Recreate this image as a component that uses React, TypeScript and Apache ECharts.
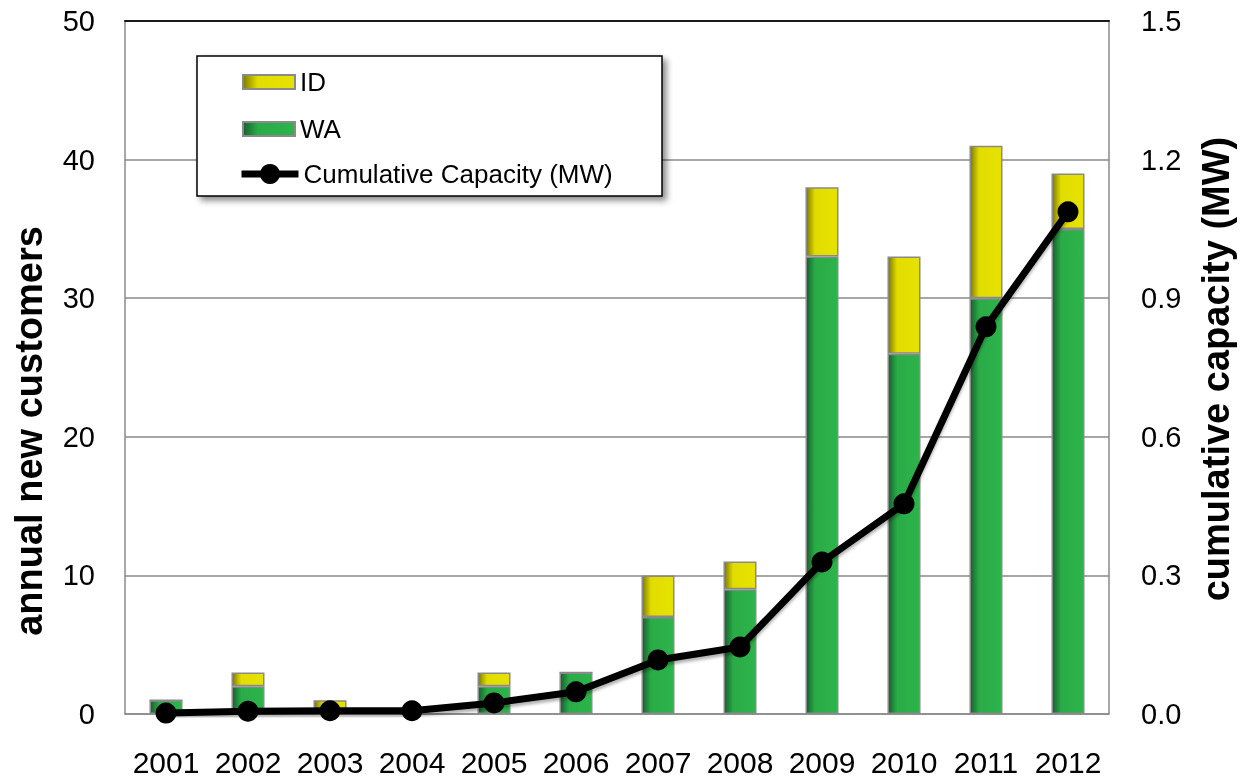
import React, { useEffect, useRef } from "react";
import * as echarts from "echarts";

const years = ["2001", "2002", "2003", "2004", "2005", "2006", "2007", "2008", "2009", "2010", "2011", "2012"];
const waCustomers = [1, 2, 0, 0, 2, 3, 7, 9, 33, 26, 30, 35];
const idCustomers = [0, 1, 1, 0, 1, 0, 3, 2, 5, 7, 11, 4];
const cumulativeMW = [0.002, 0.006, 0.007, 0.007, 0.024, 0.048, 0.117, 0.145, 0.329, 0.455, 0.838, 1.087];
const leftTicks = { min: 0, max: 50, interval: 10 };
const rightTicks = { min: 0, max: 1.5, interval: 0.3 };

const FONT = '"Liberation Sans", Arial, sans-serif';

export default function App() {
  const ref = useRef<HTMLDivElement>(null);
  useEffect(() => {
    document.body.style.margin = "0";
    const chart = echarts.init(ref.current!, null, { renderer: "svg" });
    const green = new echarts.graphic.LinearGradient(0, 0, 1, 0, [
      { offset: 0, color: "#175f2e" },
      { offset: 0.28, color: "#2aab47" },
      { offset: 1, color: "#2db44b" },
    ]);
    const yellow = new echarts.graphic.LinearGradient(0, 0, 1, 0, [
      { offset: 0, color: "#7d7a00" },
      { offset: 0.28, color: "#e2dd00" },
      { offset: 1, color: "#e6e200" },
    ]);
    const labelStyle = { color: "#000", fontFamily: FONT };
    const legendText = { fontSize: 26, lineHeight: 26, color: "#000", fontFamily: FONT };
    chart.setOption({
      animation: false,
      grid: { left: 125, right: 133, top: 21, bottom: 67 },
      xAxis: [
        {
          type: "category",
          data: years,
          axisLine: { lineStyle: { color: "#8a8a8a", width: 1.5 } },
          axisTick: { show: false },
          axisLabel: { ...labelStyle, fontSize: 30, margin: 33, interval: 0 },
        },
        {
          type: "category",
          data: years,
          position: "top",
          axisLine: { onZero: false, lineStyle: { color: "#1a1a1a", width: 2 } },
          axisTick: { show: false },
          axisLabel: { show: false },
        },
      ],
      yAxis: [
        {
          type: "value",
          ...leftTicks,
          axisLine: { show: true, lineStyle: { color: "#8a8a8a", width: 1.5 } },
          axisTick: { show: false },
          axisLabel: { ...labelStyle, fontSize: 29, margin: 30 },
          splitLine: { lineStyle: { color: "#8a8a8a", width: 1.5 } },
        },
        {
          type: "value",
          ...rightTicks,
          position: "right",
          axisLine: { show: true, lineStyle: { color: "#8a8a8a", width: 1.5 } },
          axisTick: { show: false },
          axisLabel: { ...labelStyle, fontSize: 29, margin: 32, formatter: (v: number) => v.toFixed(1) },
          splitLine: { show: false },
        },
      ],
      legend: [
        {
          data: ["ID", "WA"],
          orient: "vertical",
          left: 242,
          top: 69,
          itemWidth: 52,
          itemHeight: 14,
          itemGap: 21,
          padding: 0,
          icon: "rect",
          selectedMode: false,
          textStyle: legendText,
          z: 20,
        },
        {
          data: ["Cumulative Capacity (MW)"],
          orient: "vertical",
          left: 238,
          top: 161,
          itemWidth: 57,
          itemHeight: 25,
          padding: 0,
          selectedMode: false,
          textStyle: legendText,
          lineStyle: { width: 7, color: "#000" },
          z: 20,
        },
      ],
      graphic: [
        {
          type: "rect",
          z: 10,
          shape: { x: 197, y: 56, width: 465, height: 140 },
          style: {
            fill: "#fff",
            stroke: "#000",
            lineWidth: 1.5,
            shadowBlur: 6,
            shadowOffsetX: 4,
            shadowOffsetY: 4,
            shadowColor: "rgba(0,0,0,0.45)",
          },
        },
        {
          type: "text",
          x: 29,
          y: 431,
          rotation: Math.PI / 2,
          style: {
            text: "annual new customers",
            fontSize: 38,
            fontWeight: "bold",
            fontFamily: FONT,
            fill: "#000",
            align: "center",
            verticalAlign: "middle",
          },
        },
        {
          type: "text",
          x: 1216,
          y: 369,
          rotation: Math.PI / 2,
          style: {
            text: "cumulative capacity (MW)",
            fontSize: 38,
            fontWeight: "bold",
            fontFamily: FONT,
            fill: "#000",
            align: "center",
            verticalAlign: "middle",
          },
        },
      ],
      series: [
        {
          name: "WA",
          type: "bar",
          stack: "customers",
          data: waCustomers,
          barWidth: 33,
          itemStyle: { color: green, borderColor: "#8a8a8a", borderWidth: 1.5 },
        },
        {
          name: "ID",
          type: "bar",
          stack: "customers",
          data: idCustomers,
          barWidth: 33,
          itemStyle: { color: yellow, borderColor: "#8a8a8a", borderWidth: 1.5 },
        },
        {
          name: "Cumulative Capacity (MW)",
          type: "line",
          yAxisIndex: 1,
          data: cumulativeMW,
          symbol: "circle",
          symbolSize: 21,
          z: 5,
          lineStyle: {
            color: "#000",
            width: 7,
            shadowColor: "rgba(0,0,0,0.3)",
            shadowBlur: 3,
            shadowOffsetY: 3,
          },
          itemStyle: { color: "#000" },
        },
      ],
    });
    return () => chart.dispose();
  }, []);
  return <div ref={ref} style={{ position: "fixed", left: 0, top: 0, width: 1242, height: 781 }} />;
}
